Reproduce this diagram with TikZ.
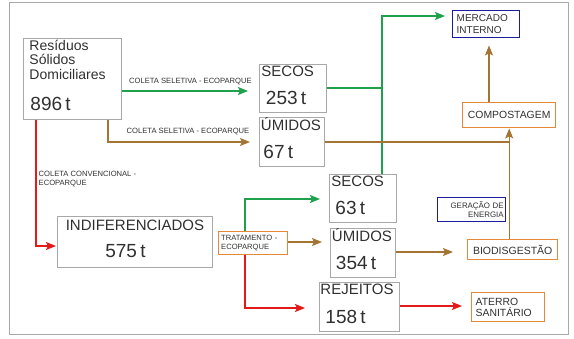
\documentclass[tikz,border=0pt]{standalone}
\usepackage{fontspec}
\setmainfont{Liberation Sans}
\usetikzlibrary{positioning,arrows.meta}

\definecolor{cinza}{HTML}{A8A8A8}
\definecolor{texto}{HTML}{303030}
\definecolor{verde}{HTML}{1FA04A}
\definecolor{marrom}{HTML}{A47434}
\definecolor{vermelho}{HTML}{E41A1A}
\definecolor{laranja}{HTML}{E5883A}
\definecolor{azul}{HTML}{1C1CA0}

\tikzset{
  caixa/.style={draw=cinza, line width=0.9pt, anchor=north west, align=left, inner ysep=0pt, text=texto},
  laranjabox/.style={draw=laranja, line width=1.4pt, anchor=north west, inner ysep=0pt, text=texto},
  azulbox/.style={draw=azul, line width=1.4pt, anchor=north west, inner ysep=0pt, text=texto},
  rotulo/.style={font=\fontsize{7.6}{8.6}\selectfont, text=texto, inner sep=1pt, align=left},
  fluxo/.style={line width=1.4pt, -{Stealth[length=10pt,width=8pt,inset=2pt]}},
  liga/.style={line width=1.4pt}
}

\begin{document}
\begin{tikzpicture}[x=1pt, y=-1pt]

  \useasboundingbox (0,0) rectangle (574,338);
  \draw[cinza, line width=0.8pt] (9,2) rectangle (568,334);

  % Caixas de quantidades
  \node[caixa, minimum width=98pt, minimum height=81pt, inner xsep=6pt, text width=86pt] (rsd) at (23,38)
    {\fontsize{14}{14.5}\selectfont Resíduos\\Sólidos\\Domiciliares\\\fontsize{19}{31}\selectfont\hspace*{1pt}896 t\rule[-8pt]{0pt}{0pt}\par};
  \node[caixa, minimum width=67pt, minimum height=48pt, inner xsep=2pt, text width=63pt] (sec1) at (259,64)
    {\fontsize{15}{18}\selectfont SECOS\\\fontsize{19}{28}\selectfont\hspace*{4.5pt}253 t\rule[-7pt]{0pt}{0pt}\par};
  \node[caixa, minimum width=65pt, minimum height=49pt, inner xsep=1.5pt, text width=62pt] (umi1) at (259,117)
    {\fontsize{15}{18}\selectfont ÚMIDOS\\\fontsize{19}{28}\selectfont\hspace*{2.5pt}67 t\rule[-8pt]{0pt}{0pt}\par};
  \node[caixa, minimum width=155pt, minimum height=51pt, inner xsep=2pt, text width=151pt, align=center] (ind) at (57,216)
    {\fontsize{15}{18}\selectfont INDIFERENCIADOS\\\fontsize{19}{27}\selectfont 575 t\hspace*{19pt}\rule[-6pt]{0pt}{0pt}\par};
  \node[caixa, minimum width=67pt, minimum height=48pt, inner xsep=2pt, text width=63pt] (sec2) at (329,174)
    {\fontsize{15}{18}\selectfont SECOS\\\fontsize{19}{28}\selectfont\hspace*{4pt}63 t\rule[-7pt]{0pt}{0pt}\par};
  \node[caixa, minimum width=65pt, minimum height=49pt, inner xsep=1.5pt, text width=62pt] (umi2) at (330,228)
    {\fontsize{15}{18}\selectfont ÚMIDOS\\\fontsize{19}{28}\selectfont\hspace*{4pt}354 t\rule[-8pt]{0pt}{0pt}\par};
  \node[caixa, minimum width=80pt, minimum height=49pt, inner xsep=1pt, text width=78pt] (rej) at (319,282)
    {\fontsize{15}{18}\selectfont REJEITOS\\\fontsize{19}{29}\selectfont\hspace*{5pt}158 t\rule[-7pt]{0pt}{0pt}\par};

  % Destinos
  \node[azulbox, minimum width=67pt, minimum height=27pt, inner xsep=4pt, text width=59pt, align=left,
        font=\fontsize{10}{11.5}\selectfont] (merc) at (452,10) {MERCADO\\INTERNO};
  \node[laranjabox, minimum width=93pt, minimum height=25pt, font=\fontsize{10.4}{12}\selectfont] (comp) at (462,102) {COMPOSTAGEM};
  \node[azulbox, minimum width=68pt, minimum height=24pt, inner xsep=2pt, text width=64pt, align=right,
        font=\fontsize{7.9}{8.6}\selectfont] (ger) at (437,197) {GERAÇÃO DE\\ENERGIA};
  \node[laranjabox, minimum width=90pt, minimum height=20pt, font=\fontsize{10.5}{12}\selectfont] (bio) at (467,239) {BIODISGESTÃO};
  \node[laranjabox, minimum width=73pt, minimum height=29pt, inner xsep=4pt, text width=65pt, align=left,
        font=\fontsize{10.4}{11}\selectfont] (ater) at (471,292) {ATERRO\\SANITÁRIO};
  \node[laranjabox, minimum width=69pt, minimum height=23pt, inner xsep=2.5pt, text width=64pt, align=left,
        font=\fontsize{7.6}{8.6}\selectfont] (trat) at (218,231) {TRATAMENTO -\\ECOPARQUE};

  % Coleta a partir dos resíduos
  \draw[fluxo, verde, shorten >=11pt] (rsd.east |- 0,91) -- (sec1.west |- 0,91)
    node[rotulo, midway, above=4pt] {COLETA SELETIVA - ECOPARQUE};
  \draw[fluxo, marrom, shorten >=9pt] ([xshift=-14pt]rsd.south east) |- (umi1.west |- 0,142)
    node[rotulo, pos=0.765, above=5pt] {COLETA SELETIVA - ECOPARQUE};
  \draw[fluxo, vermelho, shorten >=1pt] ([xshift=13pt]rsd.south west) |- (ind.west |- 0,246)
    node[rotulo, pos=0.235, anchor=west, xshift=1pt] {COLETA CONVENCIONAL -\\ECOPARQUE};

  % Secos para o mercado interno
  \draw[liga, verde] (sec1.east |- 0,88) -- (382,88);
  \draw[fluxo, verde, shorten >=7pt] (sec2.north -| 382,0) |- (merc.west |- 0,16);

  % Úmidos para compostagem
  \draw[liga, marrom] (umi1.east |- 0,142) -- (comp.south |- 0,142);
  \draw[fluxo, marrom] (bio.north -| comp.south) -- (comp.south);
  \draw[fluxo, marrom, shorten >=7pt] (comp.north -| 489,0) -- (merc.south -| 489,0);

  % Tratamento
  \draw[fluxo, verde, shorten >=9pt] (trat.north -| 245,0) |- (sec2.west |- 0,199);
  \draw[fluxo, marrom, shorten >=8pt] (trat.east |- 0,242) -- (umi2.west |- 0,242);
  \draw[fluxo, vermelho, shorten >=14pt] (trat.south -| 245,0) |- (rej.west |- 0,308);
  \draw[fluxo, marrom, shorten >=14pt] (umi2.east |- 0,252) -- (bio.west |- 0,252);
  \draw[fluxo, vermelho, shorten >=9pt] (rej.east |- 0,306) -- (ater.west |- 0,306);

\end{tikzpicture}
\end{document}
